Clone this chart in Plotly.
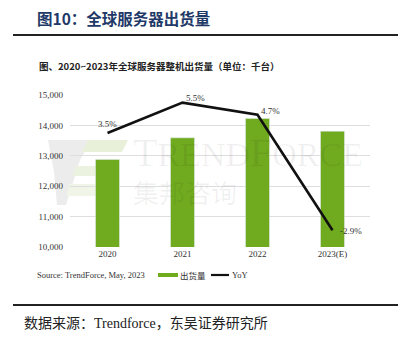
import plotly.graph_objects as go

# Shipment data (thousand units) and YoY growth (%)
years = ["2020", "2021", "2022", "2023(E)"]
shipments = [12880, 13590, 14230, 13810]
yoy = [3.5, 5.5, 4.7, -2.9]
yoy_labels = ["3.5%", "5.5%", "4.7%", "-2.9%"]
y_ticks = [10000, 11000, 12000, 13000, 14000, 15000]
y_tick_text = ["10,000", "11,000", "12,000", "13,000", "14,000", "15,000"]

W, H = 409, 341
L, R, T, B = 70, 39, 95, 94
GREEN = "#70aa1f"
SERIF = "Liberation Serif, Noto Sans CJK SC"
MARK = "rgba(0,0,0,0.06)"


def px(x):
    return (x - L) / (W - L - R)


def py(y):
    return (H - B - y) / (H - T - B)


fig = go.Figure()
fig.add_trace(go.Bar(
    x=years, y=shipments, name="出货量", marker_color=GREEN,
    width=0.32, showlegend=False,
))
fig.add_trace(go.Scatter(
    x=years, y=yoy, name="YoY", yaxis="y2", mode="lines",
    line=dict(color="#111111", width=2.6), showlegend=False,
))

# Growth labels next to each line vertex (category index on the x axis)
label_offsets = [(0, 9), (13, 5), (13, 4), (18, -1)]
for i, (v, t, (dx, dy)) in enumerate(zip(yoy, yoy_labels, label_offsets)):
    fig.add_annotation(
        x=i, y=v, xref="x", yref="y2", text=t, showarrow=False,
        xshift=dx, yshift=dy, font=dict(family=SERIF, size=9, color="#333333"),
    )

shapes = []
# Faint brand mark behind the bars
logo_paths = [
    ("M 48,140 L 92,140 L 80,160 L 66,205 L 57,205 L 54,172 Z", "#ececec"),
    ("M 88,140 L 128,140 L 122,152 L 82,152 Z", "#e8f0d9"),
    ("M 76,166 L 112,166 L 108,176 L 72,176 Z", "#ebf2df"),
    ("M 70,184 L 100,184 L 96,196 L 66,196 Z", "#f0f5e7"),
]
for d, c in logo_paths:
    toks = d.split(" ")
    out = []
    i = 0
    while i < len(toks):
        tok = toks[i]
        if tok in ("M", "L"):
            xs, ys = toks[i + 1].split(",")
            out.append(f"{tok} {px(float(xs)):.4f},{py(float(ys)):.4f}")
            i += 2
        else:
            out.append(tok)
            i += 1
    shapes.append(dict(type="path", path=" ".join(out), xref="paper", yref="paper",
                       fillcolor=c, line=dict(width=0), layer="below"))

# Rules under the heading and above the footer
shapes.append(dict(type="line", xref="paper", yref="paper", x0=px(13), x1=px(398),
                   y0=py(35), y1=py(35), line=dict(color="#222222", width=2)))
shapes.append(dict(type="line", xref="paper", yref="paper", x0=px(13), x1=px(398),
                   y0=py(305), y1=py(305), line=dict(color="#222222", width=2)))
# Legend swatches
shapes.append(dict(type="line", xref="paper", yref="paper", x0=px(158), x1=px(178),
                   y0=py(275), y1=py(275), line=dict(color=GREEN, width=4)))
shapes.append(dict(type="line", xref="paper", yref="paper", x0=px(211), x1=px(229),
                   y0=py(275), y1=py(275), line=dict(color="#111111", width=2.2)))

texts = [
    ("图10：全球服务器出货量", 35, 18, 15.5, "#1f3a68", "Noto Sans CJK SC", "left", True),
    ("图、2020~2023年全球服务器整机出货量（单位：千台）", 37, 66, 9.5, "#222222", "Noto Sans CJK SC", "left", True),
    ("Source: TrendForce, May, 2023", 35, 275, 8.5, "#333333", SERIF, "left", False),
    ("出货量", 178, 275, 8.5, "#333333", "Noto Sans CJK SC", "left", False),
    ("YoY", 230, 275, 8.5, "#333333", SERIF, "left", False),
    ("数据来源：Trendforce，东吴证券研究所", 22, 323, 14, "#222222", SERIF, "left", False),
    ("T<span style='font-size:34px'>REND</span>F<span style='font-size:34px'>ORCE</span>",
     131, 152, 40, MARK, "Liberation Serif", "left", False),
    ("集邦咨询", 131, 191, 26, MARK, "Noto Sans CJK SC", "left", False),
]
for t, x, y, s, c, f, anchor, bold in texts:
    fig.add_annotation(
        x=px(x), y=py(y), xref="paper", yref="paper", text=f"<b>{t}</b>" if bold else t,
        showarrow=False, xanchor=anchor, yanchor="middle",
        font=dict(family=f, size=s, color=c),
    )

fig.update_layout(
    width=W, height=H, margin=dict(l=L, r=R, t=T, b=B),
    paper_bgcolor="white", plot_bgcolor="white",
    shapes=shapes, bargap=0.68,
    xaxis=dict(type="category", range=[-0.5, 3.5], showline=False, ticks="",
               tickfont=dict(family=SERIF, size=9, color="#333333")),
    yaxis=dict(range=[10000, 15000], tickvals=y_ticks, ticktext=y_tick_text,
               showgrid=True, gridcolor="#dedede", gridwidth=1, zeroline=False,
               ticks="", ticklabelstandoff=6,
               tickfont=dict(family=SERIF, size=9, color="#333333")),
    yaxis2=dict(range=[-4, 6], overlaying="y", side="right", visible=False),
)

fig.write_html("out.html")
